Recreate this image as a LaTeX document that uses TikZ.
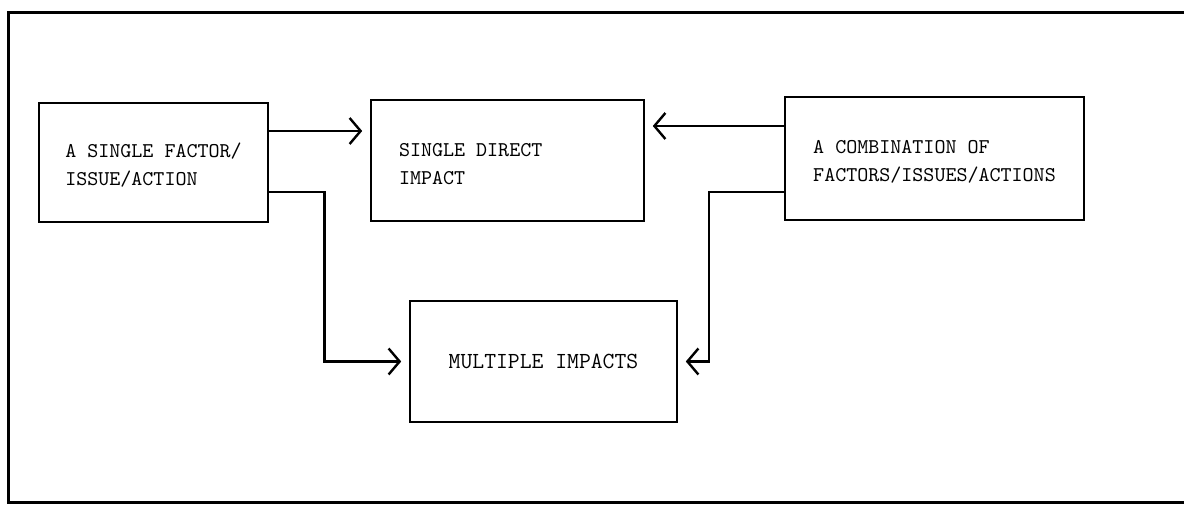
\documentclass[tikz,border=0pt]{standalone}
\usepackage{fontspec}
\usetikzlibrary{arrows.meta}

\begin{document}
\begin{tikzpicture}[x=0.5pt,y=-0.5pt,
    box/.style={draw, line width=0.8pt, rectangle, inner sep=0pt, align=left,
        font=\ttfamily\fontsize{10.5}{14}\selectfont},
    conn/.style={line width=1.3pt, -{Straight Barb[length=5.5pt,width=13pt,line width=1.2pt]},
        shorten >=4pt}]
    \useasboundingbox (0,0) rectangle (1184,506);
    % frame
    \draw[line width=1.5pt] (1184,13) -- (8,13) -- (8,503) -- (1184,503);
    \node[box, minimum width=114.5pt, minimum height=59.5pt] (b1) at (153.5,162.5) {\strut A SINGLE FACTOR/\\ISSUE/ACTION};
    \node[box, text width=108.5pt, inner xsep=14pt, minimum height=60.5pt] (b2) at (507.5,160.5) {\spaceskip=0pt\strut SINGLE DIRECT\\IMPACT};
    \node[box, minimum width=149.5pt, minimum height=61.5pt] (b3) at (934.5,158.5) {\strut A COMBINATION OF\\FACTORS/ISSUES/ACTIONS};
    \node[box, minimum width=133.5pt, minimum height=60.5pt,
        font=\ttfamily\fontsize{11.5}{14}\selectfont] (b4) at (543.5,361.5) {MULTIPLE IMPACTS};
    \draw[conn] ([yshift=15.75pt]b1.east) -- ([yshift=15.75pt]b1.east -| b2.west);
    \draw[conn] ([yshift=16.25pt]b3.west) -- ([yshift=16.25pt]b3.west -| b2.east);
    \draw[conn] ([yshift=-14.75pt]b1.east) -| ([xshift=-42.5pt]b4.west) -- (b4.west);
    \draw[conn] ([yshift=-16.75pt]b3.west) -| ([xshift=15.5pt]b4.east) -- (b4.east);
\end{tikzpicture}
\end{document}
